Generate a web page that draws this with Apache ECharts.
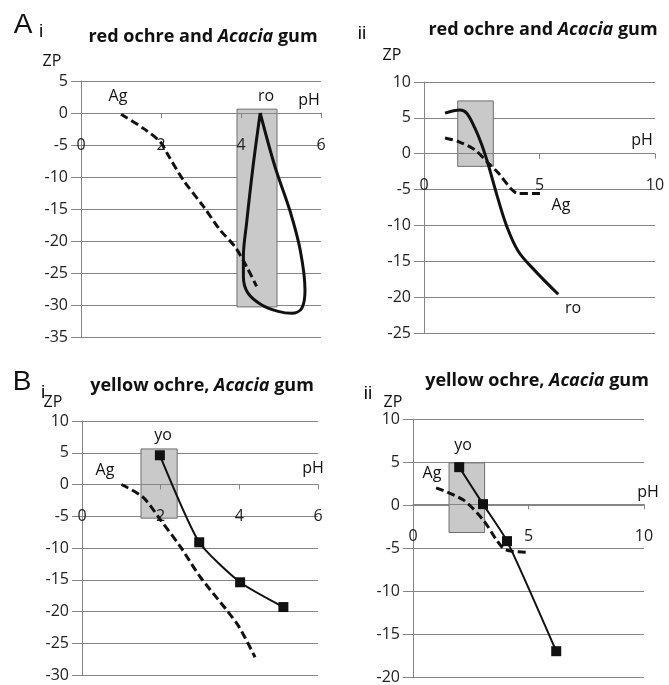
<!DOCTYPE html>
<html>
<head>
<meta charset="utf-8">
<script src="https://cdn.jsdelivr.net/npm/echarts@6/dist/echarts.min.js"></script>
<style>
  html, body { margin: 0; padding: 0; background: #fff; }
  #chart { width: 669px; height: 685px; }
</style>
</head>
<body>
<div id="chart"></div>
<script>
// panel A i : red ochre loop + Acacia gum
const agPhAi = [1.0, 1.56, 1.98, 2.18, 2.56, 3.06, 3.48, 3.85, 4.14, 4.39];
const agZpAi = [-0.2, -2.4, -4.5, -6.6, -10.5, -14.6, -18.3, -20.9, -24.0, -27.1];
const roPhAi = [4.48, 4.85, 5.22, 5.48, 5.6, 5.52, 5.27, 4.93, 4.52, 4.17, 4.06, 4.06, 4.14, 4.3, 4.48];
const roZpAi = [0, -8.4, -15.2, -21.4, -27.7, -30.5, -31.3, -31.0, -30.0, -28.1, -25.6, -22.4, -17.2, -8.4, 0];
const boxAi = [3.9, 0.6, 4.9, -30.3];

// panel A ii
const agPhAii = [0.91, 1.49, 2.2, 2.78, 3.22, 3.8, 4.08, 5.02];
const agZpAii = [2.2, 1.7, 0.55, -1.3, -2.7, -5.0, -5.55, -5.55];
const roPhAii = [0.91, 1.56, 1.85, 2.2, 2.5, 2.78, 3.15, 3.58, 4.08, 4.8, 5.81];
const roZpAii = [5.65, 6.1, 5.65, 3.6, 1.25, -1.5, -5.7, -10.1, -13.6, -16.3, -19.6];
const boxAii = [1.46, 7.36, 3.0, -1.76];

// panel B i : yellow ochre
const agPhBi = [1.0, 1.55, 2.0, 2.5, 3.0, 3.68, 4.0, 4.4];
const agZpBi = [0, -2.0, -5.6, -9.8, -14.5, -19.8, -22.5, -27.2];
const yoPhBi = [1.98, 2.98, 4.02, 5.12];
const yoZpBi = [4.6, -9.1, -15.4, -19.3];
const boxBi = [1.5, 5.6, 2.42, -5.3];

// panel B ii
const agPhBii = [1.0, 2.17, 3.03, 3.6, 4.0, 5.0];
const agZpBii = [2.0, 0.6, -1.7, -4.0, -5.2, -5.5];
const yoPhBii = [2.0, 3.03, 4.07, 6.2];
const yoZpBii = [4.4, 0.1, -4.2, -17.0];
const boxBii = [1.56, 4.9, 3.1, -3.2];

const FONT = '"Open Sans", "Noto Sans", sans-serif';
const ARIAL = '"Liberation Sans", Arial, sans-serif';
const GRID_COLOR = '#858585';

const zip = (xs, ys) => xs.map((x, i) => [x, ys[i]]);

const grids = [
  { left: 81, top: 81, width: 240, height: 256 },
  { left: 424, top: 82, width: 231, height: 251 },
  { left: 82, top: 421, width: 236, height: 254 },
  { left: 413, top: 419, width: 231, height: 259 }
];
const xRanges = [[0, 6, 2], [0, 10, 5], [0, 6, 2], [0, 10, 5]];
const yRanges = [[-35, 5], [-25, 10], [-30, 10], [-20, 10]];

// the pH axis crosses at ZP = 0, so lift it from the bottom of its grid
const xAxes = xRanges.map((r, i) => ({
  gridIndex: i, type: 'value', min: r[0], max: r[1], interval: r[2],
  position: 'bottom', z: 2,
  offset: -grids[i].height * (0 - yRanges[i][0]) / (yRanges[i][1] - yRanges[i][0]),
  axisLine: { onZero: false, lineStyle: { color: GRID_COLOR, width: 1 } },
  axisTick: { show: true, length: 5, lineStyle: { color: GRID_COLOR } },
  axisLabel: { margin: 24, fontSize: 16, color: '#222', fontFamily: FONT },
  splitLine: { show: false }
}));
const yAxes = yRanges.map((r, i) => ({
  gridIndex: i, type: 'value', min: r[0], max: r[1], interval: 5, z: 0,
  axisLine: { show: true, onZero: false, lineStyle: { color: GRID_COLOR, width: 1 } },
  axisTick: { show: true, length: 10, lineStyle: { color: GRID_COLOR } },
  axisLabel: { margin: 13, fontSize: 16, color: '#222', fontFamily: FONT },
  splitLine: { show: true, lineStyle: { color: GRID_COLOR, width: 1 } }
}));

function boxSeries(i, b) {
  return {
    type: 'line', xAxisIndex: i, yAxisIndex: i, data: [], z: 1, silent: true,
    markArea: {
      silent: true,
      itemStyle: { color: '#c9c9c9', borderColor: '#6e6e6e', borderWidth: 1 },
      data: [[{ coord: [b[0], b[1]] }, { coord: [b[2], b[3]] }]]
    }
  };
}
function dashed(i, xs, ys) {
  return {
    type: 'line', xAxisIndex: i, yAxisIndex: i, data: zip(xs, ys), z: 3,
    smooth: 0.3, showSymbol: false, symbol: 'none',
    lineStyle: { color: '#111', width: 3, type: [8, 4] }
  };
}
function solid(i, xs, ys) {
  return {
    type: 'line', xAxisIndex: i, yAxisIndex: i, data: zip(xs, ys), z: 4,
    smooth: 0.35, showSymbol: false, symbol: 'none',
    lineStyle: { color: '#111', width: 3 }
  };
}
function squares(i, xs, ys) {
  return {
    type: 'line', xAxisIndex: i, yAxisIndex: i, data: zip(xs, ys), z: 4,
    smooth: 0.2, symbol: 'rect', symbolSize: 10,
    itemStyle: { color: '#111' },
    lineStyle: { color: '#111', width: 2 }
  };
}

const titleRich = {
  b: { fontFamily: FONT, fontWeight: 'bold', fontSize: 18, color: '#111' },
  i: { fontFamily: FONT, fontWeight: 'bold', fontStyle: 'italic', fontSize: 18, color: '#111' }
};
function panelTitle(text, cx, top) {
  return { text: text, left: cx, top: top, textAlign: 'center', padding: 0, textStyle: { rich: titleRich } };
}

function label(text, x, y, size, family) {
  return {
    type: 'text', x: x, y: y, silent: true,
    style: { text: text, fill: '#111', font: size + 'px ' + (family || FONT), align: 'center', verticalAlign: 'middle' }
  };
}

const chart = echarts.init(document.getElementById('chart'), null, { renderer: 'canvas' });
chart.setOption({
  backgroundColor: '#fff',
  animation: false,
  title: [
    panelTitle('{b|red ochre and }{i|Acacia}{b| gum}', 203, 28),
    panelTitle('{b|red ochre and }{i|Acacia}{b| gum}', 543, 21),
    panelTitle('{b|yellow ochre, }{i|Acacia}{b| gum}', 202, 377),
    panelTitle('{b|yellow ochre, }{i|Acacia}{b| gum}', 537, 372)
  ],
  grid: grids,
  xAxis: xAxes,
  yAxis: yAxes,
  series: [
    boxSeries(0, boxAi), dashed(0, agPhAi, agZpAi), solid(0, roPhAi, roZpAi),
    boxSeries(1, boxAii), dashed(1, agPhAii, agZpAii), solid(1, roPhAii, roZpAii),
    boxSeries(2, boxBi), dashed(2, agPhBi, agZpBi), squares(2, yoPhBi, yoZpBi),
    boxSeries(3, boxBii), dashed(3, agPhBii, agZpBii), squares(3, yoPhBii, yoZpBii)
  ],
  graphic: [
    label('A', 23, 25, 28, ARIAL), label('i', 41, 32, 19, ARIAL),
    label('ZP', 52, 61, 16), label('pH', 309, 100, 16),
    label('Ag', 118, 96, 16), label('ro', 266, 96, 16),

    label('ii', 362, 34, 19, ARIAL),
    label('ZP', 392, 55, 16), label('pH', 642, 140, 16),
    label('Ag', 561, 205, 16), label('ro', 573, 308, 16),

    label('B', 22, 382, 28, ARIAL), label('i', 43, 393, 19, ARIAL),
    label('ZP', 53, 402, 16), label('pH', 313, 468, 16),
    label('Ag', 105, 470, 16), label('yo', 163, 435, 16),

    label('ii', 368, 394, 19, ARIAL),
    label('ZP', 393, 402, 16), label('pH', 648, 492, 16),
    label('Ag', 432, 473, 16), label('yo', 463, 445, 16)
  ]
});
</script>
</body>
</html>
